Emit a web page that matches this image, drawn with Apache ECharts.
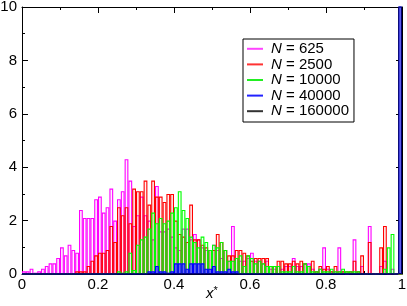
<!DOCTYPE html>
<html><head><meta charset="utf-8">
<script src="https://cdn.jsdelivr.net/npm/echarts@6/dist/echarts.min.js"></script>
<style>html,body{margin:0;padding:0;background:#fff}#c{width:407px;height:306px}</style>
</head><body><div id="c"></div>
<script>
const seriesNames = ['N = 625', 'N = 2500', 'N = 10000', 'N = 40000', 'N = 160000'];
// histogram bins of width 0.01 on [0, 1]
const n625 = [0.1,0.1,0.2,0.05,0.1,0.2,0.3,0.4,0.4,0.6, 1.0,0.7,1.1,0.9,0.8,2.4,2.1,2.1,2.1,2.8,
  2.9,2.3,2.5,3.2,2.0,2.8,3.1,4.3,3.5,1.8, 2.2,2.9,2.2,2.0,1.3,3.3,1.6,1.6,1.7,1.4,
  1.0,0.9,1.7,1.7,1.3,1.5,1.3,1.0,0.9,0.9, 1.1,0.9,0.6,0.9,0.5,1.8,0.6,0.5,0.5,0.6,
  0.8,0.5,0.5,0.4,0.5,0.2,0.2,0.3,0.2,0.3, 0.3,0.6,0.3,0.3,0.4,0.4,0.2,0.1,0.2,1.0,
  0.2,0.1,0.1,1.0,0.1,0,0.1,1.3,0.1,0.3, 0,1.8,0,0,0.3,0.5,0,0.2,0,0];
const n2500 = [0,0,0,0,0,0,0,0,0,0, 0,0,0,0,0.1,0.1,0.1,0.3,0.5,0.7,
  0.8,0.8,0.9,1.8,1.2,2.5,2.2,2.5,1.9,3.2, 3.1,3.1,3.5,2.6,3.5,2.9,2.9,2.7,3.0,3.0,
  2.0,1.5,1.4,1.2,2.6,1.3,1.3,1.1,1.0,0.9, 0.9,1.5,1.2,0.9,0.7,0.7,0.9,0.9,0.8,0.7,
  0.5,0.6,0.6,0.6,0.6,0.3,0.3,0.5,0.5,0.4, 0.4,0.5,0.4,0.5,0.4,0.3,0.5,0.1,0.3,0.2,
  0.3,0.1,0.3,0.1,0.1,0.1,0.1,0.5,0.1,0.7, 0,1.2,0,0,1.0,1.8,0,0,0,0];
const n10000 = [0,0,0,0,0,0,0,0,0,0, 0,0,0,0,0,0,0,0,0,0,
  0,0,0,0,0,0.1,0.05,0.1,0.8,0.15, 1.1,1.3,1.4,1.7,2.3,1.9,2.1,1.9,2.0,2.3,
  2.5,3.1,2.4,2.1,1.4,1.2,1.0,1.4,1.2,0.9, 1.1,1.0,1.2,0.9,0.5,0.5,0.6,0.7,0.3,0.7,
  0.6,0.4,0.5,0.4,0.3,0.3,0.3,0.3,0.1,0.1, 0.1,0.3,0.1,0.1,0.4,0.3,0.1,0.1,0.2,0.1,
  0.1,0.2,0.1,0.1,0.2,0.1,0.1,0.1,0.1,0, 0,0,0,0,0,0.2,1.0,1.5,0,0];
const n40000 = [0,0,0,0,0,0,0,0,0,0, 0,0,0,0,0,0,0,0,0,0,
  0,0,0,0,0,0,0,0,0,0, 0,0,0,0.1,0.1,0.3,0.1,0.1,0.05,0.1,
  0.4,0.4,0.4,0.2,0.4,0.4,0.4,0.4,0.2,0.2, 0.3,0.1,0.1,0.1,0.2,0.1,0.1,0,0,0,
  0,0,0,0,0,0,0,0,0,0, 0,0,0,0,0,0,0,0,0,0,
  0,0,0,0,0,0,0,0,0,0, 0,0,0,0,0,0,0,0,0,40];
const n160000 = [0,0,0,0,0,0,0,0,0,0, 0,0,0,0,0,0,0,0,0,0,
  0,0,0,0,0,0,0,0,0,0, 0,0,0,0,0,0,0,0,0,0,
  0,0,0,0,0,0,0,0,0,0, 0,0,0,0,0,0,0,0,0,0,
  0,0,0,0,0,0,0,0,0,0, 0,0,0,0,0,0,0,0,0,0,
  0,0,0,0,0,0,0,0,0,0, 0,0,0,0,0,0,0,0,0,40];
const binCenters = [];
for (let i = 0; i < 100; i++) binCenters.push(((i + 0.5) / 100).toFixed(3));

const lineColors = ['#ff00ff', '#ff0000', '#00ff00', '#0000ff', '#000055'];
const fillColors = ['rgba(255,0,255,0.05)', 'rgba(255,0,0,0.05)', 'rgba(0,255,0,0.05)', '#6a6aec', 'rgba(0,0,0,0)'];
const borderWidths = [1.1, 1.1, 1.1, 1.1, 0.9];
const legendColors = ['#ff44ff', '#ff3333', '#22ee22', '#2222ff', '#333333'];
const allData = [n625, n2500, n10000, n40000, n160000];

const FONT = 'Liberation Sans';
const chart = echarts.init(document.getElementById('c'), null, {renderer: 'canvas'});
const axisCommon = {
  axisLine: {show: true, onZero: false, lineStyle: {color: '#000', width: 1}},
  axisTick: {show: true, inside: true, length: 6, lineStyle: {color: '#000', width: 1}},
  minorTick: {show: true, splitNumber: 2, length: 3, lineStyle: {color: '#000', width: 1}},
  splitLine: {show: false}
};
chart.setOption({
  animation: false,
  backgroundColor: '#fff',
  grid: {left: 22, right: 5, top: 7, bottom: 32, containLabel: false, outerBoundsMode: 'none'},
  xAxis: [
    {type: 'category', data: binCenters, show: false, boundaryGap: true, position: 'bottom'},
    Object.assign({type: 'value', min: 0, max: 1, interval: 0.2, position: 'bottom',
      axisLabel: {color: '#000', fontSize: 15, fontFamily: FONT, margin: 3},
      name: '{x|x}{s|*}', nameLocation: 'middle', nameGap: 11, nameMoveOverlap: false,
      nameTextStyle: {rich: {
        x: {fontStyle: 'italic', fontSize: 15, fontFamily: FONT, color: '#000'},
        s: {fontSize: 11, fontFamily: FONT, color: '#000', padding: [0, 0, 7, 0]}
      }}}, axisCommon),
    Object.assign({type: 'value', min: 0, max: 1, interval: 0.2, position: 'top',
      axisLabel: {show: false}}, axisCommon)
  ],
  yAxis: [
    Object.assign({type: 'value', min: 0, max: 10, interval: 2, position: 'left',
      axisLabel: {color: '#000', fontSize: 15, fontFamily: FONT, margin: 5}}, axisCommon),
    Object.assign({type: 'value', min: 0, max: 10, interval: 2, position: 'right',
      axisLabel: {show: false}}, axisCommon)
  ],
  legend: {
    orient: 'vertical', left: 243, top: 39,
    backgroundColor: '#fff', borderColor: '#000', borderWidth: 1, borderRadius: 0,
    padding: [2, 5, 3, 4], itemGap: 0, itemWidth: 16, itemHeight: 2, icon: 'rect',
    selectedMode: false,
    data: seriesNames.map((n, i) => ({name: n, itemStyle: {color: legendColors[i], borderWidth: 0}})),
    formatter: n => '{i|N} = ' + n.slice(4),
    textStyle: {fontSize: 15, color: '#000', fontFamily: FONT, lineHeight: 15.6, padding: [0, 0, 0, 3],
      rich: {i: {fontStyle: 'italic', fontSize: 15, fontFamily: FONT, color: '#000', lineHeight: 15.6}}}
  },
  series: allData.map((d, i) => ({
    type: 'bar', name: seriesNames[i], data: d, xAxisIndex: 0, yAxisIndex: 0,
    barWidth: '100%', barGap: '-100%', barCategoryGap: 0, clip: true, silent: true,
    itemStyle: {color: fillColors[i], borderColor: lineColors[i], borderWidth: borderWidths[i]},
    z: 2 + i
  }))
});
</script></body></html>
